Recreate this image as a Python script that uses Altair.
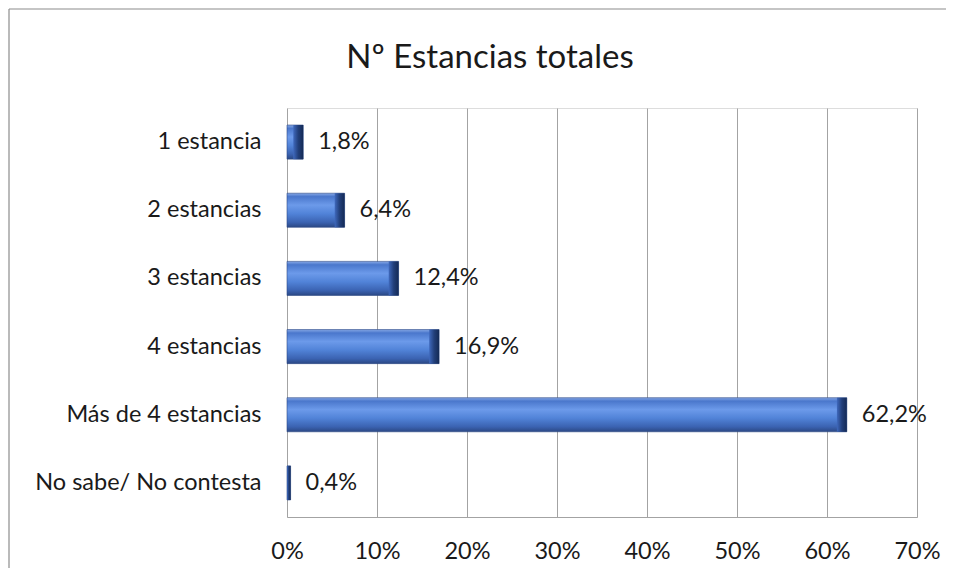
import altair as alt
import pandas as pd

categories = ["1 estancia", "2 estancias", "3 estancias", "4 estancias",
              "Más de 4 estancias", "No sabe/ No contesta"]
values_pct = [1.8, 6.4, 12.4, 16.9, 62.2, 0.4]
title_text = "Nº Estancias totales"

df = pd.DataFrame({
    "cat": categories,
    "pct": [v / 100 for v in values_pct],
    "label": [f"{v:.1f}".replace(".", ",") + "%" for v in values_pct],
})

FONT = "Lato"
TXT = "#1a1a1a"
GRID = "#a3a3a3"
FS = 23.5

x_scale = alt.Scale(domain=[0, 0.7], nice=False)
y_scale = alt.Scale(paddingInner=0.5, paddingOuter=0.25)

base = alt.Chart(df)

x_enc = alt.X("pct:Q", scale=x_scale,
              axis=alt.Axis(format=".0%", values=[0, .1, .2, .3, .4, .5, .6, .7],
                            title=None, grid=True, gridColor=GRID, domainColor=GRID,
                            ticks=False, labelFontSize=FS, labelFont=FONT,
                            labelColor=TXT, labelPadding=22, labelFlush=False))
y_enc = alt.Y("cat:N", sort=categories, scale=y_scale,
              axis=alt.Axis(title=None, ticks=False, domain=False,
                            labelFontSize=FS, labelFont=FONT, labelColor=TXT,
                            labelPadding=26, labelLimit=400))

gradient = alt.Gradient(
    gradient="linear", x1=0, y1=0, x2=0, y2=1,
    stops=[
        alt.GradientStop(offset=0, color="#86a8e6"),
        alt.GradientStop(offset=0.1, color="#4a77cc"),
        alt.GradientStop(offset=0.35, color="#6c9aea"),
        alt.GradientStop(offset=0.6, color="#5183d8"),
        alt.GradientStop(offset=0.85, color="#3b63b2"),
        alt.GradientStop(offset=1, color="#2b4884"),
    ])

bars = base.mark_bar(fill=gradient, stroke="#2b4884", strokeWidth=0.6).encode(
    x=x_enc, y=y_enc)

end_grad = alt.Gradient(
    gradient="linear", x1=0, y1=0, x2=1, y2=0,
    stops=[
        alt.GradientStop(offset=0, color="#3f69bd"),
        alt.GradientStop(offset=0.5, color="#223f7a"),
        alt.GradientStop(offset=1, color="#142a55"),
    ])

ends = base.transform_calculate(
    start="max(0, datum.pct - 0.011)"
).mark_bar(fill=end_grad).encode(
    x=alt.X("start:Q", scale=x_scale), x2="pct:Q",
    y=alt.Y("cat:N", sort=categories, scale=y_scale))

labels = base.mark_text(align="left", baseline="middle", dx=15,
                        fontSize=FS, font=FONT, color=TXT).encode(
    x=alt.X("pct:Q", scale=x_scale),
    y=alt.Y("cat:N", sort=categories, scale=y_scale),
    text="label:N")

title = alt.Chart(pd.DataFrame({"t": [title_text]})).mark_text(
    align="center", baseline="middle", fontSize=33, font=FONT, color=TXT
).encode(x=alt.value(203), y=alt.value(-50), text="t:N")

frame_top = alt.Chart(pd.DataFrame({"a": [0]})).mark_rule(
    color="#8c8c8c", strokeWidth=1.2
).encode(x=alt.value(-278), x2=alt.value(659), y=alt.value(-99))
frame_left = alt.Chart(pd.DataFrame({"a": [0]})).mark_rule(
    color="#8c8c8c", strokeWidth=1.2
).encode(x=alt.value(-278), y=alt.value(-99), y2=alt.value(460))

chart = alt.layer(frame_top, frame_left, bars, ends, labels, title).properties(
    width=630, height=409, padding=0
).configure_view(stroke=None).configure(background="white")

chart.save("out.html", embed_options={"renderer": "svg", "actions": False})
